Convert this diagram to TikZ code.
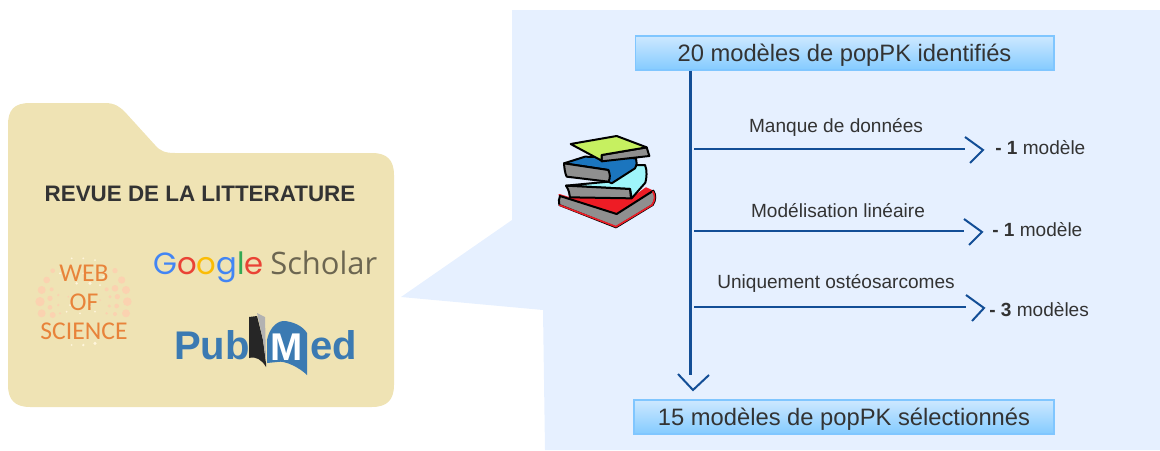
\documentclass[tikz,border=0pt]{standalone}
\usepackage{fontspec}
\setmainfont{Liberation Sans}
\newfontfamily\gfont{Poppins}
\newfontfamily\sfont{Open Sans}
\newfontfamily\wfont{Carlito}
\usetikzlibrary{calc}
\definecolor{panel}{HTML}{E6F0FF}
\definecolor{folder}{HTML}{EFE3B4}
\definecolor{flow}{HTML}{134E96}
\definecolor{txt}{HTML}{333333}
\definecolor{boxtop}{HTML}{CDE8FF}
\definecolor{boxbot}{HTML}{84CBFF}
\definecolor{boxline}{HTML}{80C6FF}
\definecolor{wos}{HTML}{E8833A}
\definecolor{wosdot}{HTML}{FBD2B0}
\definecolor{wosw}{HTML}{FFF6DC}
\definecolor{pm}{HTML}{3B7AB2}
\definecolor{pg}{HTML}{8F8F8F}
\definecolor{bkgreen}{HTML}{C6F060}
\definecolor{bkcyan}{HTML}{9EF5FA}
\definecolor{bkblue}{HTML}{1B75BE}
\definecolor{bkred}{HTML}{EE1C25}
\tikzset{
  box/.style={draw=boxline,line width=1pt,top color=boxtop,bottom color=boxbot,minimum height=25.5pt,inner sep=0pt,text=txt,text depth=0pt,font=\fontsize{17.8}{19}\selectfont},
  flowline/.style={draw=flow,line width=1.6pt},
  chevron/.style={draw=flow,line width=1.5pt,line join=miter,fill=none},
  lab/.style={text=txt,font=\fontsize{14.3}{16}\selectfont,inner sep=0pt},
  res/.style={text=txt,font=\fontsize{14.3}{16}\selectfont,inner sep=0pt},
  wtxt/.style={inner sep=0pt,text=wos,font=\wfont\fontsize{19.2}{21}\selectfont},
  bk/.style={draw=black,line width=1.5pt,line join=round},
}
\begin{document}
\begin{tikzpicture}[x=0.75pt,y=-0.75pt]
\useasboundingbox (0,0) rectangle (1160,450);
% speech panel
\fill[panel] (512,10) -- (1160,10) -- (1160,450) -- (545,450) -- (543,310) -- (401,297) -- (512,220) -- cycle;
% folder
\fill[folder] (8,125) .. controls (8,110) and (14,103) .. (30,103) -- (105,103)
  .. controls (115,103) and (120,107) .. (125,112) -- (155,145)
  .. controls (160,151) and (165,153) .. (175,153) -- (372,153)
  .. controls (387,153) and (394,160) .. (394,175) -- (394,385)
  .. controls (394,400) and (387,407) .. (372,407) -- (30,407)
  .. controls (15,407) and (8,400) .. (8,385) -- cycle;
\node[inner sep=0pt,text=black!80,font=\bfseries\fontsize{16.8}{19}\selectfont] (rev) at (200,194) {REVUE DE LA LITTERATURE};
% web of science dots (zoom coordinates / 3)
\begin{scope}[shift={(0,230)},x=0.25pt,y=-0.25pt]
\foreach \x/\y/\s in {125/180/12,140/150/10,158/122/7,125/250/12,120/215/14,158/255/9,345/122/8,365/150/11,378/180/12,382/215/13,378/250/12,345/175/10,320/178/6,352/200/8,330/200/5,350/228/7,328/228/5,345/252/6,150/205/8,155/178/6,175/225/4,150/232/7,180/250/4,175/195/4,320/250/4,300/210/3,205/200/3}{
  \fill[wosdot] (\x,\y) circle[radius=\s];
}
\foreach \x/\y/\s in {230/160/4,270/160/5,300/165/3,200/245/3,285/245/3,250/345/4,285/340/5,215/345/3,215/85/3,250/85/3,285/90/3,250/130/3,180/130/3,310/140/3,240/250/3,270/230/3,210/225/3}{
  \fill[wosw] (\x,\y) circle[radius=\s];
}
\end{scope}
\node[wtxt] (w1) at (84,273) {WEB};
\node[wtxt] (w2) at (84,302) {OF};
\node[wtxt] (w3) at (84,331) {SCIENCE};
% google scholar
\node[anchor=base west,inner sep=0pt,font=\gfont\fontsize{23}{28}\selectfont] (g) at (153,274)
 {\textcolor[HTML]{4285F4}{G}\textcolor[HTML]{EA4335}{o}\textcolor[HTML]{FBBC05}{o}\textcolor[HTML]{4285F4}{g}\textcolor[HTML]{34A853}{l}\textcolor[HTML]{EA4335}{e}};
\node[anchor=base west,inner sep=0pt,text=black!55!folder,font=\sfont\fontsize{23.2}{28}\selectfont] (sch) at (270,274) {Scholar};
% pubmed
\node[anchor=base west,inner sep=0pt,text=pm,font=\bfseries\fontsize{30}{32}\selectfont] (pub) at (174,359) {Pub};
\node[anchor=base east,inner sep=0pt,text=pm,font=\bfseries\fontsize{30}{32}\selectfont] (ed) at (357,359) {ed};
\fill[black!85] (249,317) -- (257,316) -- (263,340) -- (266,363) -- (266,367) .. controls (262,360) and (256,356) .. (249,358) -- cycle;
\fill[black!30] (257,313) -- (265,317) -- (266,362) -- (263,340) -- cycle;
\fill[pm] (267,363) -- (267,340) .. controls (269,330) and (275,322) .. (283,321) .. controls (292,321) and (303,326) .. (307,333) -- (307,375) .. controls (300,368) and (285,360) .. (277,362) -- cycle;
\node[inner sep=0pt,text=white,font=\bfseries\fontsize{29}{30}\selectfont] (mm) at (287,347) {M};
% books (zoom coordinates / 3)
\begin{scope}[shift={(540,120)},x=0.25pt,y=-0.25pt]
\filldraw[bk,draw=bkred,fill=bkred] (58,225) -- (90,235) -- (270,240) -- (318,205) -- (340,215) -- (225,280) -- (190,275) -- cycle;
\filldraw[bk,fill=pg] (58,255) -- (228,322) -- (338,255) .. controls (348,240) and (348,225) .. (340,212) -- (230,282) -- (60,228) .. controls (56,235) and (56,245) .. (58,255) -- cycle;
\draw[bkred,line width=1.2pt] (58,255) -- (228,320) -- (336,255) .. controls (346,240) and (346,225) .. (338,214);
\filldraw[bk,fill=bkcyan] (78,197) -- (205,185) -- (290,135) -- (315,135) .. controls (322,150) and (320,175) .. (316,188) -- (275,235) -- (270,207) -- cycle;
\filldraw[bk,fill=pg] (78,197) -- (270,207) -- (273,235) -- (90,232) .. controls (88,222) and (88,212) .. (78,197) -- cycle;
\filldraw[bk,fill=bkblue] (72,130) -- (135,110) -- (288,115) .. controls (292,125) and (290,135) .. (285,145) -- (215,190) -- (205,185) -- (205,150) -- cycle;
\filldraw[bk,fill=pg] (72,130) -- (205,150) .. controls (210,160) and (212,175) .. (205,185) -- (80,170) .. controls (75,160) and (73,145) .. (72,130) -- cycle;
\filldraw[bk,fill=pg] (185,105) -- (320,82) -- (328,108) -- (185,124) -- cycle;
\filldraw[bk,fill=bkgreen] (92,72) -- (230,48) -- (320,82) -- (185,105) -- (185,122) -- cycle;
\end{scope}
% flow boxes
\node[box,minimum width=314pt] (top) at (844.5,53) {20 modèles de popPK identifiés};
\node[box,minimum width=315pt] (bot) at (844,417) {15 modèles de popPK sélectionnés};
\coordinate (vs) at (top.south -| 690.5,0);
\coordinate (ve) at (690.5,375);
\draw[flowline] (vs) -- (ve);
\draw[chevron] (678,374) -- (693,390) -- (709,375);
% branches
\coordinate (b1s) at (694,149); \coordinate (b1e) at (965,149);
\coordinate (b2s) at (694,231); \coordinate (b2e) at (964,231);
\coordinate (b3s) at (694,307); \coordinate (b3e) at (966,307);
\draw[flowline,line width=1.3pt] (b1s) -- (b1e);
\draw[flowline,line width=1.3pt] (b2s) -- (b2e);
\draw[flowline,line width=1.3pt] (b3s) -- (b3e);
\draw[chevron] (965,137) -- (983,150) -- (970,163);
\draw[chevron] (964,219) -- (982,232) -- (969,245);
\draw[chevron] (966,295) -- (984,308) -- (972,321);
\node[lab] (l1) at (836,127) {Manque de données};
\node[lab] (l2) at (838,211) {Modélisation linéaire};
\node[lab] (l3) at (836,283) {Uniquement ostéosarcomes};
\node[res,anchor=west] (r1) at (995,148) {\textbf{- 1} modèle};
\node[res,anchor=west] (r2) at (992,230) {\textbf{- 1} modèle};
\node[res,anchor=west] (r3) at (989,310) {\textbf{- 3} modèles};
\end{tikzpicture}
\end{document}
